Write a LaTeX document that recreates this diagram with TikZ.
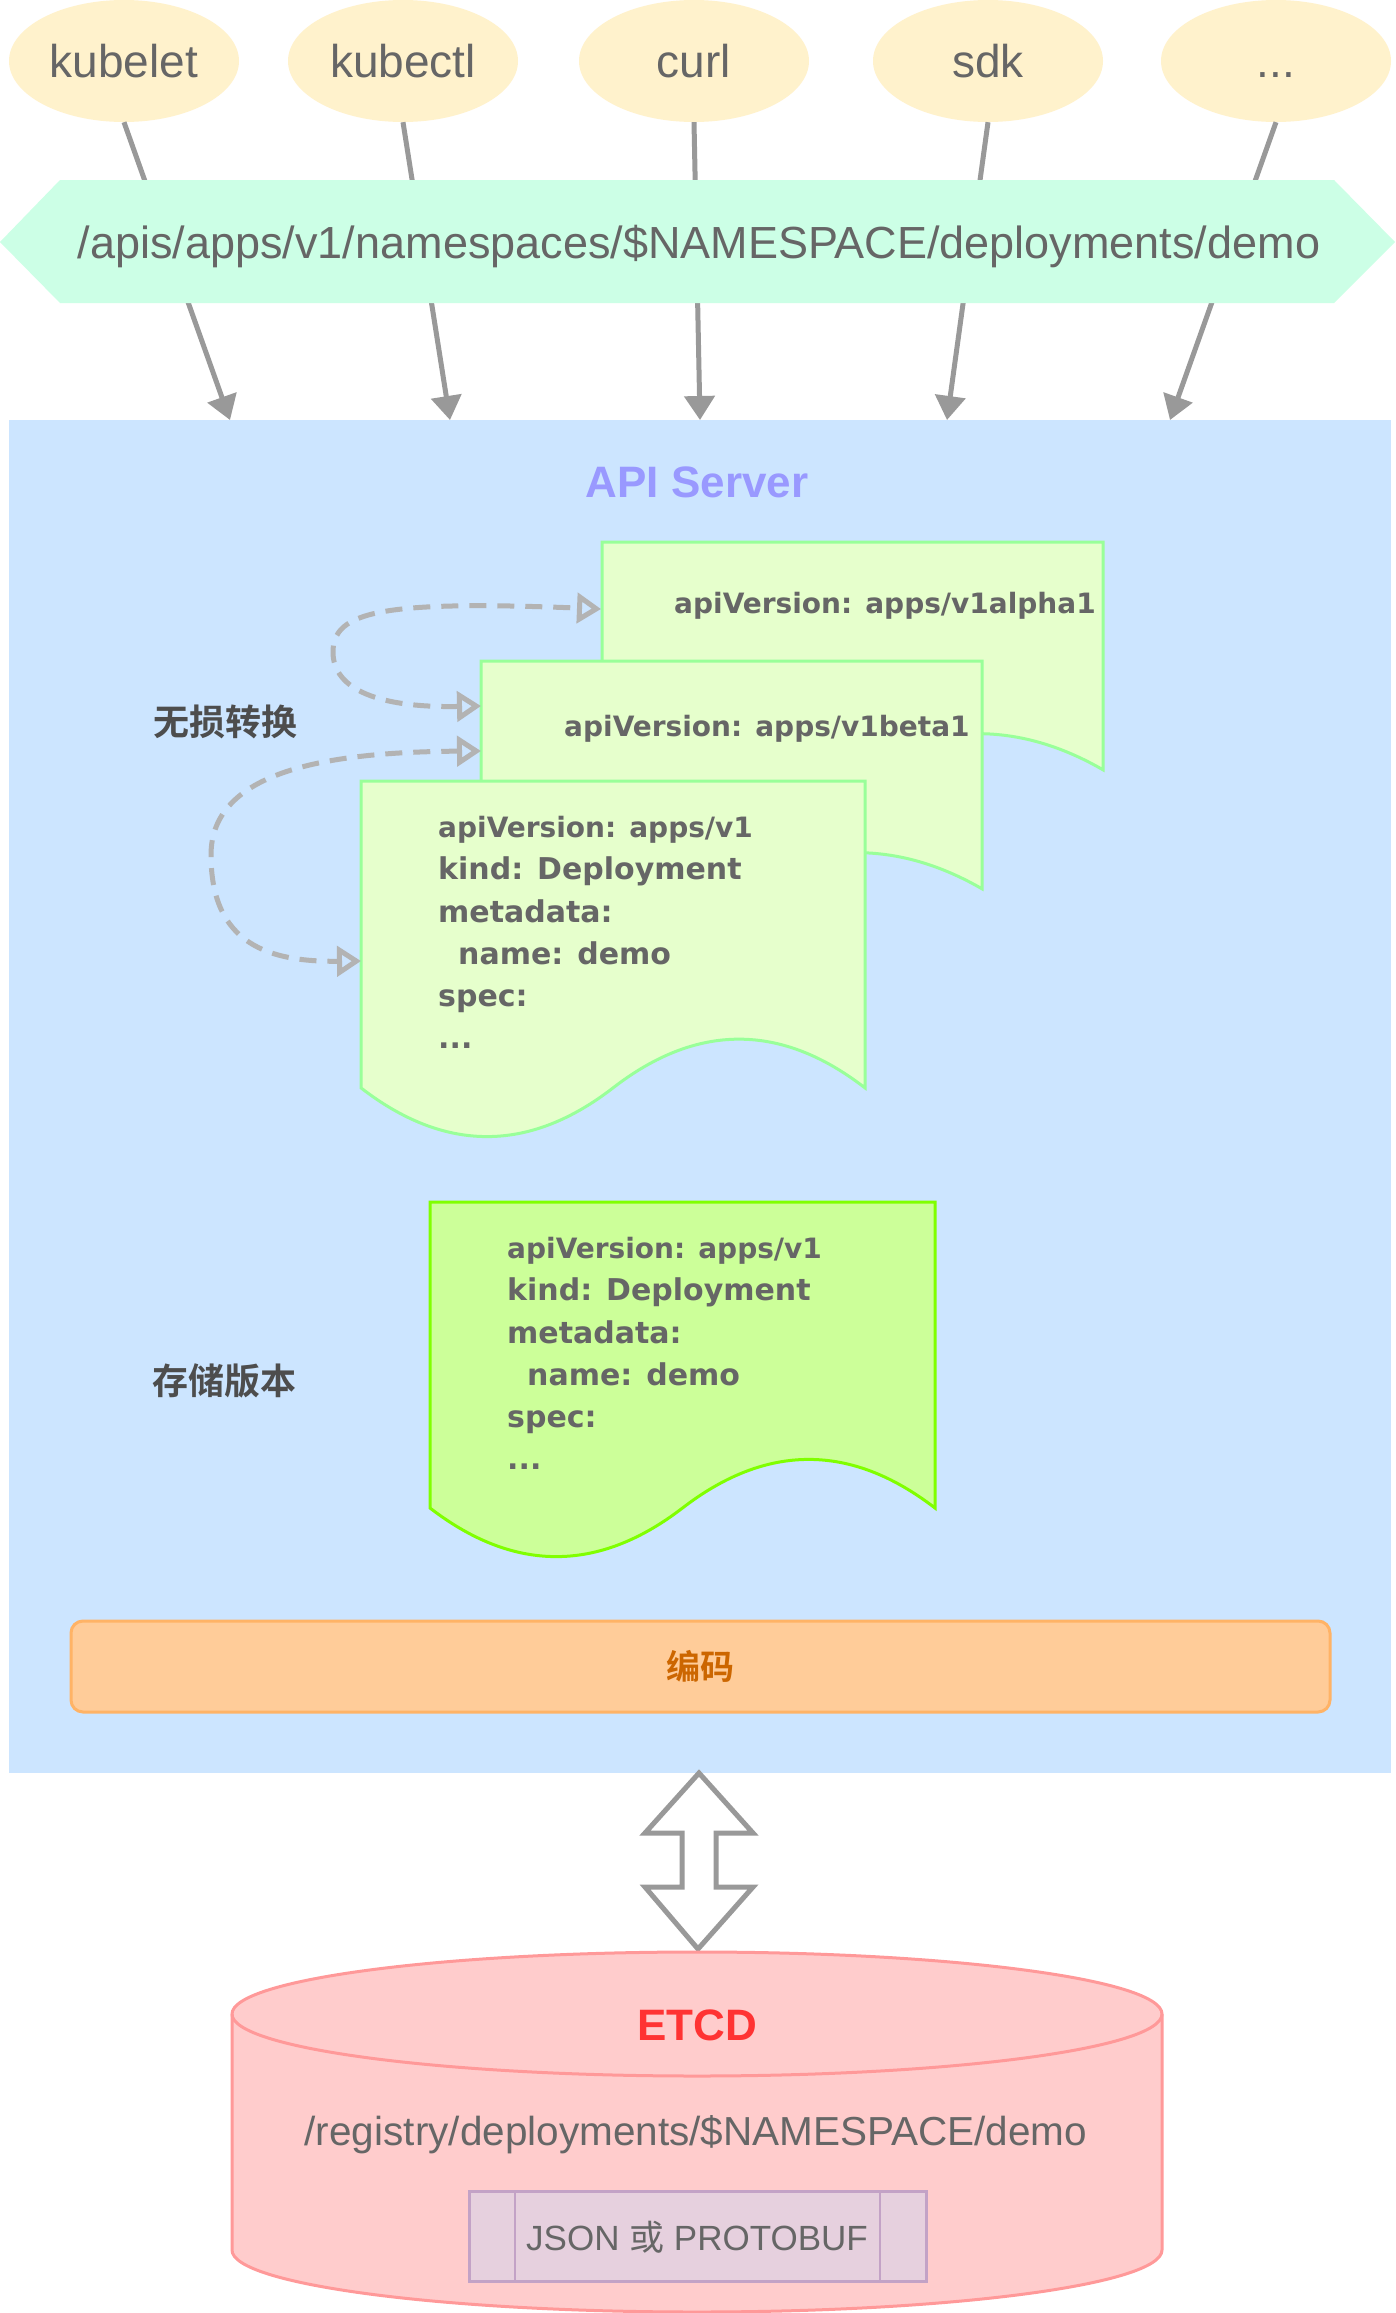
\documentclass[tikz,border=0pt]{standalone}
\usepackage{fontspec}
\setmainfont{Liberation Sans}
\newfontfamily\yamlfont{DejaVu Sans}
\newfontfamily\cjk[BoldFont={Noto Sans CJK SC Bold}]{Noto Sans CJK SC}
\usetikzlibrary{arrows.meta,shapes.geometric}
\definecolor{ellfill}{HTML}{FFF2CC}
\definecolor{hexfill}{HTML}{CCFFE6}
\definecolor{apifill}{HTML}{CCE5FF}
\definecolor{apititle}{HTML}{9999FF}
\definecolor{arrgray}{HTML}{999999}
\definecolor{dashgray}{HTML}{B3B3B3}
\definecolor{docfill}{HTML}{E6FFCC}
\definecolor{docstroke}{HTML}{99FF99}
\definecolor{storefill}{HTML}{CCFF99}
\definecolor{storestroke}{HTML}{80FF00}
\definecolor{encfill}{HTML}{FFCC99}
\definecolor{encstroke}{HTML}{FFB366}
\definecolor{enctext}{HTML}{CC6600}
\definecolor{cylfill}{HTML}{FFCCCC}
\definecolor{cylstroke}{HTML}{FF9999}
\definecolor{etcdred}{HTML}{FF3333}
\definecolor{procfill}{HTML}{E6D0DE}
\definecolor{procstroke}{HTML}{C3A2C6}
\definecolor{txtgray}{HTML}{666666}
\definecolor{lblgray}{HTML}{4D4D4D}
\newcommand\apiv[1]{{\fontsize{28}{42.3}\selectfont #1}}
\tikzset{
  client/.style={ellipse, fill=ellfill, draw=none, minimum width=230, minimum height=122,
    inner sep=0, font=\fontsize{46}{55}\selectfont, text=txtgray, text height=33, text depth=0},
  toparr/.style={draw=arrgray, line width=5, -{Triangle[length=24,width=30]}},
  docshape/.style={fill=docfill, draw=docstroke, line width=3},
  storeshape/.style={fill=storefill, draw=storestroke, line width=3},
  yaml/.style={font=\yamlfont\bfseries\fontsize{30}{42.3}\selectfont, text=txtgray,
    align=left, inner sep=0, anchor=north west},
  conv/.style={draw=dashgray, line width=5, dash pattern=on 17pt off 11pt,
    {Triangle[open,length=24,width=30]}-{Triangle[open,length=24,width=30]}},
  lbl/.style={font=\cjk\bfseries\fontsize{36}{43}\selectfont, text=lblgray, inner sep=0},
  plain/.style={text=txtgray, inner sep=0},
}
\begin{document}
\begin{tikzpicture}[x=1pt,y=-1pt]
\useasboundingbox (0,0) rectangle (1395,2313);
\fill[white] (0,0) rectangle (1395,2313);

% API server container
\fill[apifill] (9,420) rectangle (1391,1773);
\node[anchor=base, inner sep=0, font=\bfseries\fontsize{44}{53}\selectfont, text=apititle] (apititle) at (697,497) {API Server};
\coordinate (t1) at (230,420);
\coordinate (t2) at (450,420);
\coordinate (t3) at (700,420);
\coordinate (t4) at (947,420);
\coordinate (t5) at (1170,420);

% clients
\node[client] (kubelet) at (124,61) {kubelet};
\node[client] (kubectl) at (403,61) {kubectl};
\node[client] (curl) at (694,61) {curl};
\node[client] (sdk) at (988,61) {sdk};
\node[client] (more) at (1276,61) {...};

\draw[toparr] (kubelet.south) -- (t1);
\draw[toparr] (kubectl.south) -- (t2);
\draw[toparr] (curl.south) -- (t3);
\draw[toparr] (sdk.south) -- (t4);
\draw[toparr] (more.south) -- (t5);

% URL banner
\fill[hexfill] (0,242) -- (60,180) -- (1334,180) -- (1395,242) -- (1334,303) -- (60,303) -- cycle;
\node[plain, anchor=base, font=\fontsize{45}{54}\selectfont] (url) at (699,258) {/apis/apps/v1/namespaces/\$NAMESPACE/deployments/demo};

% documents
\begin{scope}[shift={(602,542)}]
\path[docshape] (0,0) -- (501,0) -- (501,227.8) .. controls (417.5,179.6) and (334,179.6) .. (250.5,227.8) .. controls (167,276) and (83.5,276) .. (0,227.8) -- cycle;
\end{scope}
\node[yaml, anchor=base west] (v1alpha1) at (674,613) {\apiv{apiVersion: apps/v1alpha1}};
\begin{scope}[shift={(481,661)}]
\path[docshape] (0,0) -- (501,0) -- (501,227.8) .. controls (417.5,179.6) and (334,179.6) .. (250.5,227.8) .. controls (167,276) and (83.5,276) .. (0,227.8) -- cycle;
\end{scope}
\node[yaml, anchor=base west] (v1beta1) at (564,736) {\apiv{apiVersion: apps/v1beta1}};
\begin{scope}[shift={(361,781)}]
\path[docshape] (0,0) -- (504,0) -- (504,306.9) .. controls (420,241.9) and (336,241.9) .. (252,306.9) .. controls (168,371.8) and (84,371.8) .. (0,306.9) -- cycle;
\end{scope}
\node[yaml] (v1) at (438,816) {\apiv{apiVersion: apps/v1}\\kind: Deployment\\metadata:\\\hspace*{20pt}name: demo\\spec:\\...};

\begin{scope}[shift={(430,1202)}]
\path[storeshape] (0,0) -- (505,0) -- (505,306) .. controls (420.8,241.2) and (336.7,241.2) .. (252.5,306) .. controls (168.3,370.8) and (84.2,370.8) .. (0,306) -- cycle;
\end{scope}
\node[yaml] (stored) at (507,1237) {\apiv{apiVersion: apps/v1}\\kind: Deployment\\metadata:\\\hspace*{20pt}name: demo\\spec:\\...};

% conversion arrows
\coordinate (d1w) at (601,609);
\coordinate (d2wa) at (481,706);
\coordinate (d2wb) at (481,751);
\coordinate (d3w) at (361,961);
\draw[conv] (d2wa) .. controls (380,708) and (333,690) .. (333,652) .. controls (333,612) and (380,600) .. (d1w);
\draw[conv] (d2wb) .. controls (330,752) and (211,770) .. (211,855) .. controls (211,945) and (270,962) .. (d3w);

\node[lbl] (lossless) at (225,722) {无损转换};
\node[lbl] (storever) at (224,1381) {存储版本};

% encoding bar
\node[draw=encstroke, fill=encfill, line width=3, rounded corners=12, minimum width=1259,
  minimum height=91, inner sep=0, font=\cjk\bfseries\fontsize{34}{40}\selectfont, text=enctext] (enc) at (700.5,1666.5) {编码};

% double arrow
\path[draw=arrgray, fill=white, line width=5, line join=miter]
  (699,1773) -- (753,1833) -- (716,1833) -- (716,1887) -- (753,1887) -- (698,1949)
  -- (645,1887) -- (682,1887) -- (682,1833) -- (645,1833) -- cycle;

% etcd cylinder
\path[fill=cylfill, draw=cylstroke, line width=3]
  (232,2014) -- (232,2250) .. controls (232,2284.2) and (440.2,2312) .. (697,2312)
  .. controls (953.8,2312) and (1162,2284.2) .. (1162,2250) -- (1162,2014)
  .. controls (1162,1979.8) and (953.8,1952) .. (697,1952)
  .. controls (440.2,1952) and (232,1979.8) .. (232,2014) -- cycle;
\draw[cylstroke, line width=3] (232,2014) .. controls (232,2048.2) and (440.2,2076) .. (697,2076)
  .. controls (953.8,2076) and (1162,2048.2) .. (1162,2014);
\node[anchor=base, inner sep=0, font=\bfseries\fontsize{44}{53}\selectfont, text=etcdred] (etcd) at (697,2040) {ETCD};
\node[plain, anchor=base, font=\fontsize{40.5}{48}\selectfont] (reg) at (696,2145) {/registry/deployments/\$NAMESPACE/demo};

\node[draw=procstroke, fill=procfill, line width=3, minimum width=457, minimum height=90, inner sep=0] (proc) at (697.5,2236) {};
\draw[procstroke, line width=2.5] (515,2191) -- (515,2281);
\draw[procstroke, line width=2.5] (880,2191) -- (880,2281);
\node[plain, anchor=base, font=\fontsize{35}{42}\selectfont] (fmt) at (697,2250) {JSON {\cjk 或} PROTOBUF};
\end{tikzpicture}
\end{document}
